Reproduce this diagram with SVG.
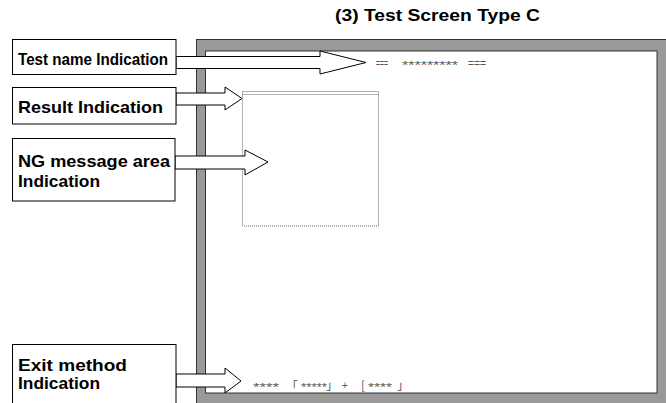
<svg xmlns="http://www.w3.org/2000/svg" width="666" height="403" viewBox="0 0 666 403">
<style>
.lbl{font-family:"Liberation Sans",Arial,sans-serif;font-weight:bold;font-size:17px;fill:#000}
.box{fill:#fff;stroke:#000;stroke-width:1}
.arr{fill:#fff;stroke:#000;stroke-width:1;stroke-linejoin:miter}
.sm{font-family:"Liberation Sans",Arial,sans-serif;font-size:10px;fill:#555}
.br{font-family:"Noto Sans CJK JP",sans-serif;font-size:12px;fill:#555}
</style>
<rect width="666" height="403" fill="#fff"/>
<text class="lbl" x="335" y="21" font-size="17.5" textLength="205" lengthAdjust="spacingAndGlyphs">(3) Test Screen Type C</text>
<g id="screen">
<rect x="196.5" y="39.5" width="480" height="380" fill="#999" stroke="#333" stroke-width="1"/>
<rect x="205.5" y="51" width="451.5" height="342" fill="#fff" stroke="#333" stroke-width="1"/>
<g id="ngArea">
<rect x="242.5" y="91.5" width="136" height="134.5" fill="none" stroke="#666" stroke-width="1" stroke-dasharray="1 1"/>
<line x1="242.5" y1="94.5" x2="378.5" y2="94.5" stroke="#666" stroke-width="1" stroke-dasharray="1 1"/>
</g>
<g id="testNameText">
<text class="sm" x="376" y="67" textLength="12" lengthAdjust="spacingAndGlyphs">===</text>
<text class="sm" x="402" y="69" textLength="56" lengthAdjust="spacingAndGlyphs">*********</text>
<text class="sm" x="468" y="67" textLength="18" lengthAdjust="spacingAndGlyphs">===</text>
</g>
<g id="exitText">
<text class="sm" x="253" y="391" textLength="26" lengthAdjust="spacingAndGlyphs">****</text>
<text class="br" x="286" y="391">「</text>
<text class="sm" x="301" y="391" textLength="26" lengthAdjust="spacingAndGlyphs">*****</text>
<text class="br" x="326" y="390">」</text>
<text class="sm" x="342" y="389">+</text>
<text class="br" x="361" y="390">[</text>
<text class="sm" x="368" y="391" textLength="24" lengthAdjust="spacingAndGlyphs">****</text>
<text class="br" x="397" y="390">」</text>
</g>
</g>
<g id="connectors">
<polygon class="arr" points="176,56.5 320,56.5 320,51 366,62.5 320,74 320,68.5 176,68.5"/>
<polygon class="arr" points="176,93 225,93 225,87 242,98.5 225,110 225,105 176,105"/>
<polygon class="arr" points="175,156 245,156 245,150 268,162 245,175 245,169 175,169"/>
<polygon class="arr" points="176,374 225,374 225,368 241,381 225,393 225,387 176,387"/>
</g>
<g id="testName">
<rect class="box" x="12.5" y="39.5" width="163.5" height="35"/>
<text class="lbl" x="18" y="65" textLength="150" lengthAdjust="spacingAndGlyphs">Test name Indication</text>
</g>
<g id="result">
<rect class="box" x="12.5" y="87.5" width="163.5" height="36.5"/>
<text class="lbl" x="18" y="113" textLength="145" lengthAdjust="spacingAndGlyphs">Result Indication</text>
</g>
<g id="ngMessage">
<rect class="box" x="12.5" y="138.5" width="162.5" height="62.5"/>
<text class="lbl" x="18" y="167" textLength="152" lengthAdjust="spacingAndGlyphs">NG message area</text>
<text class="lbl" x="18" y="187" textLength="82" lengthAdjust="spacingAndGlyphs">Indication</text>
</g>
<g id="exitMethod">
<rect class="box" x="12.5" y="344.5" width="163.5" height="70"/>
<text class="lbl" x="18" y="371" textLength="109" lengthAdjust="spacingAndGlyphs">Exit method</text>
<text class="lbl" x="18" y="389" textLength="82" lengthAdjust="spacingAndGlyphs">Indication</text>
</g>
</svg>
